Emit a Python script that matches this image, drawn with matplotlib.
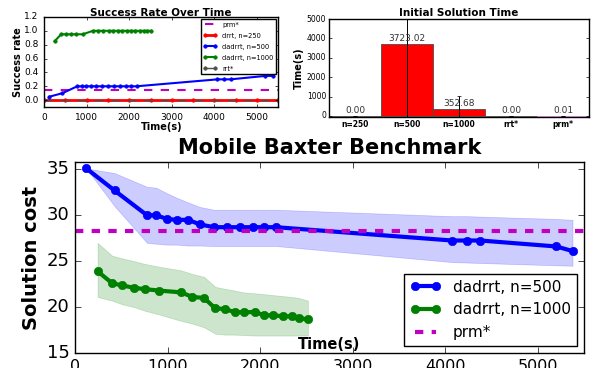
import numpy as np
import matplotlib
matplotlib.use("Agg")
import matplotlib.pyplot as plt

plt.style.use("classic")
plt.rcParams["font.family"] = ["DejaVu Sans"]

# --- data: solution cost over time (bottom plot)
t500 = [122, 427, 778, 878, 993, 1100, 1222, 1351, 1502, 1642, 1785, 1921, 2047, 2172,
        4073, 4236, 4381, 5201, 5376]
cost500 = [35.1, 32.7, 30.0, 30.0, 29.6, 29.5, 29.5, 29.0, 28.7, 28.7, 28.7, 28.7, 28.7, 28.7,
           27.25, 27.25, 27.25, 26.6, 26.1]
up500 = [35.1, 34.6, 33.1, 33.0, 32.4, 31.9, 31.4, 30.9, 30.6, 30.6, 30.6, 30.6, 30.6, 30.6,
         29.9, 29.9, 29.85, 29.6, 29.5]
lo500 = [35.1, 31.0, 27.0, 26.9, 26.8, 26.8, 26.7, 26.7, 26.65, 26.65, 26.65, 26.65, 26.65, 26.65,
         24.9, 24.85, 24.8, 24.55, 24.5]

t1000 = [244, 401, 513, 638, 756, 907, 1147, 1269, 1394, 1516, 1616, 1724, 1824, 1946,
         2047, 2143, 2244, 2344, 2416, 2517]
cost1000 = [23.9, 22.6, 22.35, 22.1, 21.95, 21.8, 21.6, 21.1, 21.0, 19.85, 19.8, 19.45, 19.45, 19.45,
            19.1, 19.1, 19.0, 19.0, 18.8, 18.65]
up1000 = [27.0, 25.6, 25.3, 25.0, 24.7, 24.4, 24.0, 23.6, 23.3, 22.2, 22.0, 21.8, 21.6, 21.5,
          21.4, 21.3, 21.2, 21.1, 21.0, 20.7]
lo1000 = [21.1, 20.7, 20.3, 20.0, 19.6, 19.2, 18.5, 18.2, 17.8, 17.1, 17.0, 17.0, 16.95, 16.9,
          16.9, 16.9, 16.9, 16.9, 16.9, 16.9]

prm_cost = 28.26

# --- success rate (top left)
succ500 = [0.05, 0.10, 0.2, 0.2, 0.2, 0.2, 0.2, 0.2, 0.2, 0.2, 0.2, 0.2, 0.2, 0.2,
           0.3, 0.3, 0.3, 0.35, 0.35]
succ1000 = [0.85, 0.95, 0.95, 0.95, 0.95, 0.95, 1.0, 1.0, 1.0, 1.0, 1.0, 1.0, 1.0, 1.0,
            1.0, 1.0, 1.0, 1.0, 1.0, 1.0]
t250 = [0, 500, 1000, 1500, 2000, 2500, 3000, 3500, 4000, 4500, 5000, 5500]
succ250 = [0.0] * len(t250)
t_rrt = [0, 5500]
succ_rrt = [0.0, 0.0]
prm_succ = 0.15

# --- initial solution time (top right)
bar_labels = ["n=250", "n=500", "n=1000", "rrt*", "prm*"]
init_time = [0.00, 3723.02, 352.68, 0.00, 0.01]
init_err = [0.0, 4000.0, 690.0, 0.0, 0.0]

fig = plt.figure(figsize=(5.97, 3.68), dpi=100)
fig.patch.set_facecolor("white")

# top left: success rate
ax1 = fig.add_axes([0.074, 0.709, 0.392, 0.245])
ax1.axhline(prm_succ, color="m", ls="--", lw=1.5, label="prm*")
ax1.plot(t250, succ250, "-o", color="r", lw=2, ms=2.5, mec="r", label="drrt, n=250")
ax1.plot(t500, succ500, "-o", color="b", lw=1.5, ms=2.5, mec="b", label="dadrrt, n=500")
ax1.plot(t1000, succ1000, "-o", color="g", lw=1.5, ms=2.5, mec="g", label="dadrrt, n=1000")
ax1.plot(t_rrt, succ_rrt, "--o", color="0.3", lw=1, ms=2.5, mec="0.3", label="rrt*")
ax1.set_xlim(0, 5500)
ax1.set_ylim(-0.1, 1.2)
ax1.set_xticks(range(0, 5001, 1000))
ax1.set_yticks(np.arange(0, 1.21, 0.2))
ax1.tick_params(labelsize=6.5, length=2)
ax1.set_title("Success Rate Over Time", fontsize=7.5, fontweight="bold", pad=1)
ax1.set_xlabel("Time(s)", fontsize=7, fontweight="bold", labelpad=0)
ax1.set_ylabel("Success rate", fontsize=7, fontweight="bold", labelpad=1)
ax1.legend(loc="upper right", fontsize=4.8, numpoints=2, handlelength=2.0,
           labelspacing=0.75, borderaxespad=0.3)

# top right: initial solution time
ax2 = fig.add_axes([0.551, 0.682, 0.4355, 0.266])
xpos = np.arange(len(init_time))
colors = ["r", "r", "r", "r", "violet"]
edges = ["0.3", "0.3", "0.3", "0.3", "violet"]
ax2.bar(xpos, init_time, width=1, align="edge", color=colors, edgecolor=edges, lw=0.6,
        yerr=init_err, error_kw=dict(ecolor="k", lw=0.7, capsize=1.5))
for x, v in zip(xpos, init_time):
    ax2.text(x + 0.5, v + 60, "%.2f" % v, ha="center", va="bottom", fontsize=6.5, color="0.2")
ax2.set_xlim(0, 5)
ax2.set_ylim(-60, 5000)
ax2.set_xticks(xpos + 0.5)
ax2.set_xticklabels(bar_labels, fontweight="bold")
ax2.set_yticks(range(0, 5001, 1000))
ax2.tick_params(labelsize=5.5, length=2, pad=2)
ax2.tick_params(axis="x", length=0)
ax2.set_title("Initial Solution Time", fontsize=7.5, fontweight="bold", pad=2)
ax2.set_ylabel("Time(s)", fontsize=7, fontweight="bold", labelpad=2)

# bottom: solution cost
ax3 = fig.add_axes([0.1256, 0.0408, 0.8526, 0.519])
ax3.fill_between(t500, lo500, up500, color="b", alpha=0.2, lw=0.5, edgecolor=(0, 0, 1, 0.1))
ax3.fill_between(t1000, lo1000, up1000, color="g", alpha=0.2, lw=0.5, edgecolor=(0, 0.5, 0, 0.1))
ax3.plot(t500, cost500, "-o", color="b", lw=3, ms=6, mec="b", label="dadrrt, n=500")
ax3.plot(t1000, cost1000, "-o", color="g", lw=3, ms=6, mec="g", label="dadrrt, n=1000")
ax3.axhline(prm_cost, color="m", ls="--", lw=3, label="prm*")
ax3.set_xlim(0, 5500)
ax3.set_ylim(15, 35.8)
ax3.set_xticks(range(0, 5001, 1000))
ax3.set_yticks(range(15, 36, 5))
ax3.tick_params(labelsize=11.5)
ax3.tick_params(axis="y", labelsize=13)
ax3.set_title("Mobile Baxter Benchmark", fontsize=15, fontweight="bold", pad=6)
ax3.set_ylabel("Solution cost", fontsize=14, fontweight="bold", labelpad=4)
ax3.set_xlabel("Time(s)", fontsize=10.5, fontweight="bold", labelpad=-26)
ax3.legend(loc="lower right", fontsize=11, numpoints=2, handlelength=2.0, borderaxespad=0.45)

fig.savefig("out.png", dpi=100, facecolor="white")
